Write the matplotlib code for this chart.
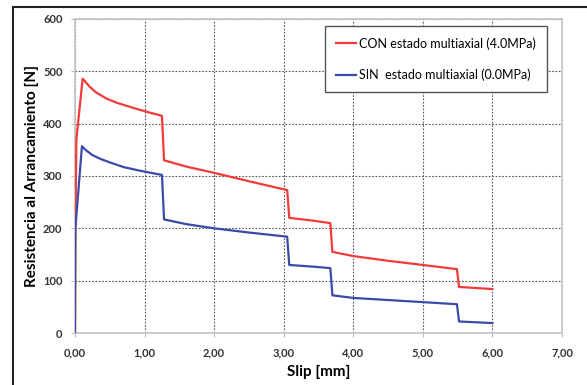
import matplotlib.pyplot as plt
from matplotlib.patches import Rectangle

# CON estado multiaxial (4.0MPa)
x_con = [0.0, 0.005, 0.02, 0.11, 0.15, 0.2, 0.3, 0.45, 0.6, 0.84, 1.05, 1.25, 1.28, 1.6, 2.0, 2.5, 3.05,
         3.08, 3.4, 3.67, 3.70, 4.0, 4.5, 5.0, 5.49, 5.52, 6.0]
y_con = [0, 200, 370, 486, 480, 472, 460, 448, 440, 430, 422, 415, 330, 318, 306, 290, 273,
         220, 215, 210, 155, 147, 138, 130, 122, 88, 84]

# SIN estado multiaxial (0.0MPa)
x_sin = [0.0, 0.005, 0.10, 0.15, 0.25, 0.36, 0.5, 0.7, 0.9, 1.25, 1.28, 1.6, 2.0, 2.5, 3.05, 3.08,
         3.4, 3.67, 3.70, 4.0, 4.5, 5.0, 5.49, 5.52, 6.0]
y_sin = [0, 200, 357, 350, 340, 333, 326, 317, 311, 302, 217, 208, 200, 192, 184, 130,
         127, 124, 72, 67, 63, 59, 55, 22, 19]

xticks = [0, 1, 2, 3, 4, 5, 6, 7]
yticks = [0, 100, 200, 300, 400, 500, 600]

plt.rcParams['font.family'] = ['Lato', 'DejaVu Sans']

fig = plt.figure(figsize=(5.87, 3.85), dpi=100)
ax = fig.add_axes([75 / 587, 1 - 333 / 385, (562 - 75) / 587, (333 - 19) / 385])

ax.plot(x_con, y_con, color='#f23a3a', lw=1.6, label='CON estado multiaxial (4.0MPa)', zorder=3)
ax.plot(x_sin, y_sin, color='#3a4aa8', lw=1.6, label='SIN  estado multiaxial (0.0MPa)', zorder=4)

ax.set_xlim(0, 7)
ax.set_ylim(0, 600)
ax.set_xticks(xticks)
ax.set_xticklabels([('%.2f' % v).replace('.', ',') for v in xticks])
ax.set_yticks(yticks)
ax.tick_params(labelsize=8, colors='#bbbbbb', labelcolor='#333333', length=3, width=0.8)
ax.tick_params(axis='x', pad=7)
ax.tick_params(axis='y', pad=6)
for lbl in ax.get_xticklabels() + ax.get_yticklabels():
    lbl.set_fontweight('bold')

ax.grid(True, linestyle=(0, (1.5, 1.5)), color='#555555', lw=0.8)
for s in ax.spines.values():
    s.set_color('#c4c4c4')
    s.set_linewidth(1.2)

ax.set_xlabel('Slip [mm]', fontsize=11, fontweight='bold', labelpad=5)
ax.set_ylabel('Resistencia al Arrancamiento [N]', fontsize=11, fontweight='bold', labelpad=3)

leg = ax.legend(loc='upper left', bbox_to_anchor=(325 / 587, 1 - 26 / 385),
                bbox_transform=fig.transFigure, fontsize=9, fancybox=False,
                handlelength=1.6, handletextpad=0.2, labelspacing=1.5,
                borderpad=0.9, borderaxespad=0, framealpha=1)
leg.get_frame().set_edgecolor('#555555')
leg.get_frame().set_linewidth(1.0)

# outer frame
fig.patches.append(Rectangle((13 / 587, -0.1), 1.2, 1 - 7 / 385 + 0.1, transform=fig.transFigure,
                             fill=False, edgecolor='#222222', lw=1.5))

fig.savefig('out.png', dpi=100)
